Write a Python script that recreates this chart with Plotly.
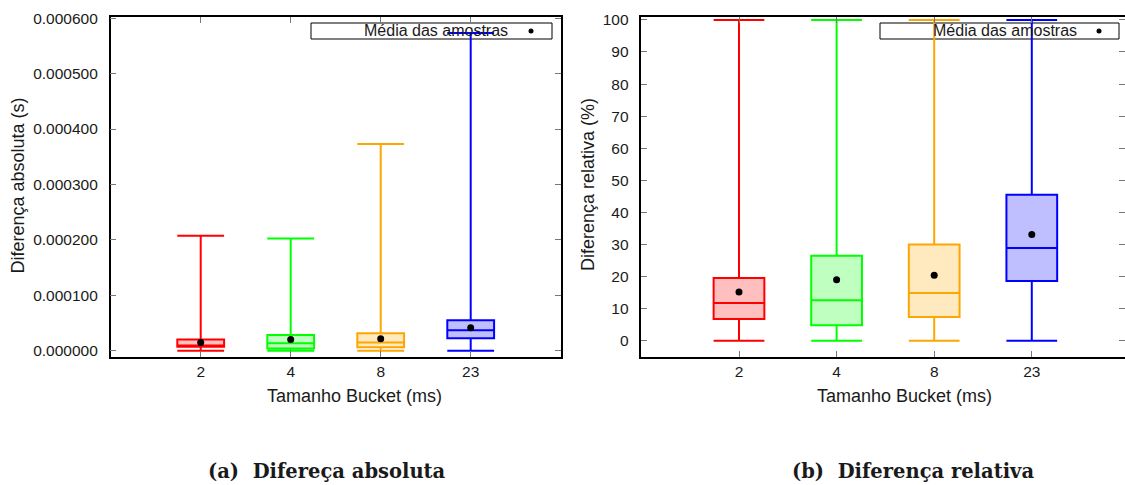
import plotly.graph_objects as go

W, H = 1125, 485

# Bucket sizes (ms) and per-bucket styling
buckets = ["2", "4", "8", "23"]
positions = [1, 2, 3, 4]
line_colors = ["#ff0000", "#00ff00", "#ffa500", "#0000ff"]
fill_colors = ["#ffbfbf", "#bfffbf", "#ffe9bf", "#bfbfff"]

# (a) absolute difference, seconds
abs_min = [0.0, 0.0, 0.0, 0.0]
abs_q1 = [0.0000072, 0.0000042, 0.0000066, 0.0000228]
abs_median = [0.0000095, 0.0000138, 0.0000150, 0.0000372]
abs_q3 = [0.0000204, 0.0000283, 0.0000318, 0.0000553]
abs_max = [0.0002077, 0.0002023, 0.0003730, 0.0005730]
abs_mean = [0.0000150, 0.0000204, 0.0000216, 0.0000414]

# (b) relative difference, percent
rel_min = [0.0, 0.0, 0.0, 0.0]
rel_q1 = [6.8, 4.8, 7.4, 18.6]
rel_median = [11.8, 12.6, 14.9, 28.9]
rel_q3 = [19.6, 26.5, 30.0, 45.5]
rel_max = [100.0, 100.0, 100.0, 100.0]
rel_mean = [15.2, 19.0, 20.4, 33.1]

abs_ticks = [0.0, 0.0001, 0.0002, 0.0003, 0.0004, 0.0005, 0.0006]
rel_ticks = [0, 10, 20, 30, 40, 50, 60, 70, 80, 90, 100]

FONT = "Liberation Sans"
TXT = "#1a1a1a"


def fx(px):
    return px / W


def fy(py):
    return 1 - py / H


fig = go.Figure()


def add_boxes(xa, ya, q1, med, q3, lo, hi, mean):
    for i in range(len(buckets)):
        fig.add_trace(go.Box(
            x=[positions[i]], q1=[q1[i]], median=[med[i]], q3=[q3[i]],
            lowerfence=[lo[i]], upperfence=[hi[i]],
            xaxis=xa, yaxis=ya, width=0.52, whiskerwidth=1,
            line=dict(color=line_colors[i], width=2),
            fillcolor=fill_colors[i], boxpoints=False, showlegend=False,
        ))
    fig.add_trace(go.Scatter(
        x=positions, y=mean, mode="markers", xaxis=xa, yaxis=ya,
        marker=dict(symbol="circle", size=7, color="black"),
        name="Média das amostras", showlegend=False,
    ))


add_boxes("x", "y", abs_q1, abs_median, abs_q3, abs_min, abs_max, abs_mean)
add_boxes("x2", "y2", rel_q1, rel_median, rel_q3, rel_min, rel_max, rel_mean)

ydom = [fy(356.5), fy(17)]
common_x = dict(
    tickvals=positions, ticktext=buckets, ticks="inside", ticklen=6,
    tickcolor="#777", showline=True, linecolor="black", linewidth=1.5,
    mirror="ticks", showgrid=False, zeroline=False, automargin=False,
    tickfont=dict(family=FONT, size=15.5, color=TXT), ticklabelstandoff=0,
)
common_y = dict(
    ticks="inside", ticklen=6, tickcolor="#777", showline=True,
    linecolor="black", linewidth=1.5, mirror="ticks", showgrid=False,
    zeroline=False, automargin=False,
    tickfont=dict(family=FONT, size=15.5, color=TXT),
    ticklabelstandoff=8, domain=ydom,
)

fig.update_layout(
    width=W, height=H, margin=dict(l=0, r=0, t=0, b=0, autoexpand=False),
    paper_bgcolor="white", plot_bgcolor="white",
    xaxis=dict(common_x, domain=[fx(110.7), fx(560.7)], range=[0, 5], anchor="y"),
    yaxis=dict(common_y, range=[-0.0000103, 0.000602], tickvals=abs_ticks,
               tickformat=".6f", anchor="x"),
    xaxis2=dict(common_x, domain=[fx(641.4), 1.0], range=[0, 4.955], anchor="y2"),
    yaxis2=dict(common_y, range=[-4.9, 100.9], tickvals=rel_ticks, anchor="x2"),
)

shapes = []
annotations = []


def legend_box(x0, x1, text_right, dot_x):
    shapes.append(dict(type="rect", xref="paper", yref="paper",
                       x0=fx(x0), x1=fx(x1), y0=fy(39), y1=fy(23),
                       line=dict(color="black", width=1), layer="below"))
    shapes.append(dict(type="circle", xref="paper", yref="paper",
                       x0=fx(dot_x - 2.5), x1=fx(dot_x + 2.5),
                       y0=fy(33.5), y1=fy(28.5),
                       fillcolor="black", line=dict(color="black", width=0)))
    annotations.append(dict(text="Média das amostras", xref="paper", yref="paper",
                            x=fx(text_right), y=fy(31), xanchor="right",
                            yanchor="middle", showarrow=False,
                            font=dict(family=FONT, size=16, color=TXT)))


legend_box(311, 552, 510, 531)
legend_box(880, 1119, 1079, 1099)


def label(text, x, y, angle=0, size=18, family=FONT, bold=False):
    annotations.append(dict(
        text=f"<b>{text}</b>" if bold else text, xref="paper", yref="paper",
        x=fx(x), y=fy(y), xanchor="center", yanchor="middle",
        textangle=angle, showarrow=False,
        font=dict(family=family, size=size, color=TXT)))


label("Diferença absoluta (s)", 17.5, 186, angle=-90)
label("Tamanho Bucket (ms)", 354.5, 396)
label("Diferença relativa (%)", 588, 184, angle=-90)
label("Tamanho Bucket (ms)", 904, 396)
label("(a)\u00a0 Difereça absoluta", 326.5, 471, size=19.5, family="DejaVu Serif", bold=True)
label("(b)\u00a0 Diferença relativa", 912.5, 471, size=19.5, family="DejaVu Serif", bold=True)

fig.update_layout(shapes=shapes, annotations=annotations)
fig.write_html("out.html")
